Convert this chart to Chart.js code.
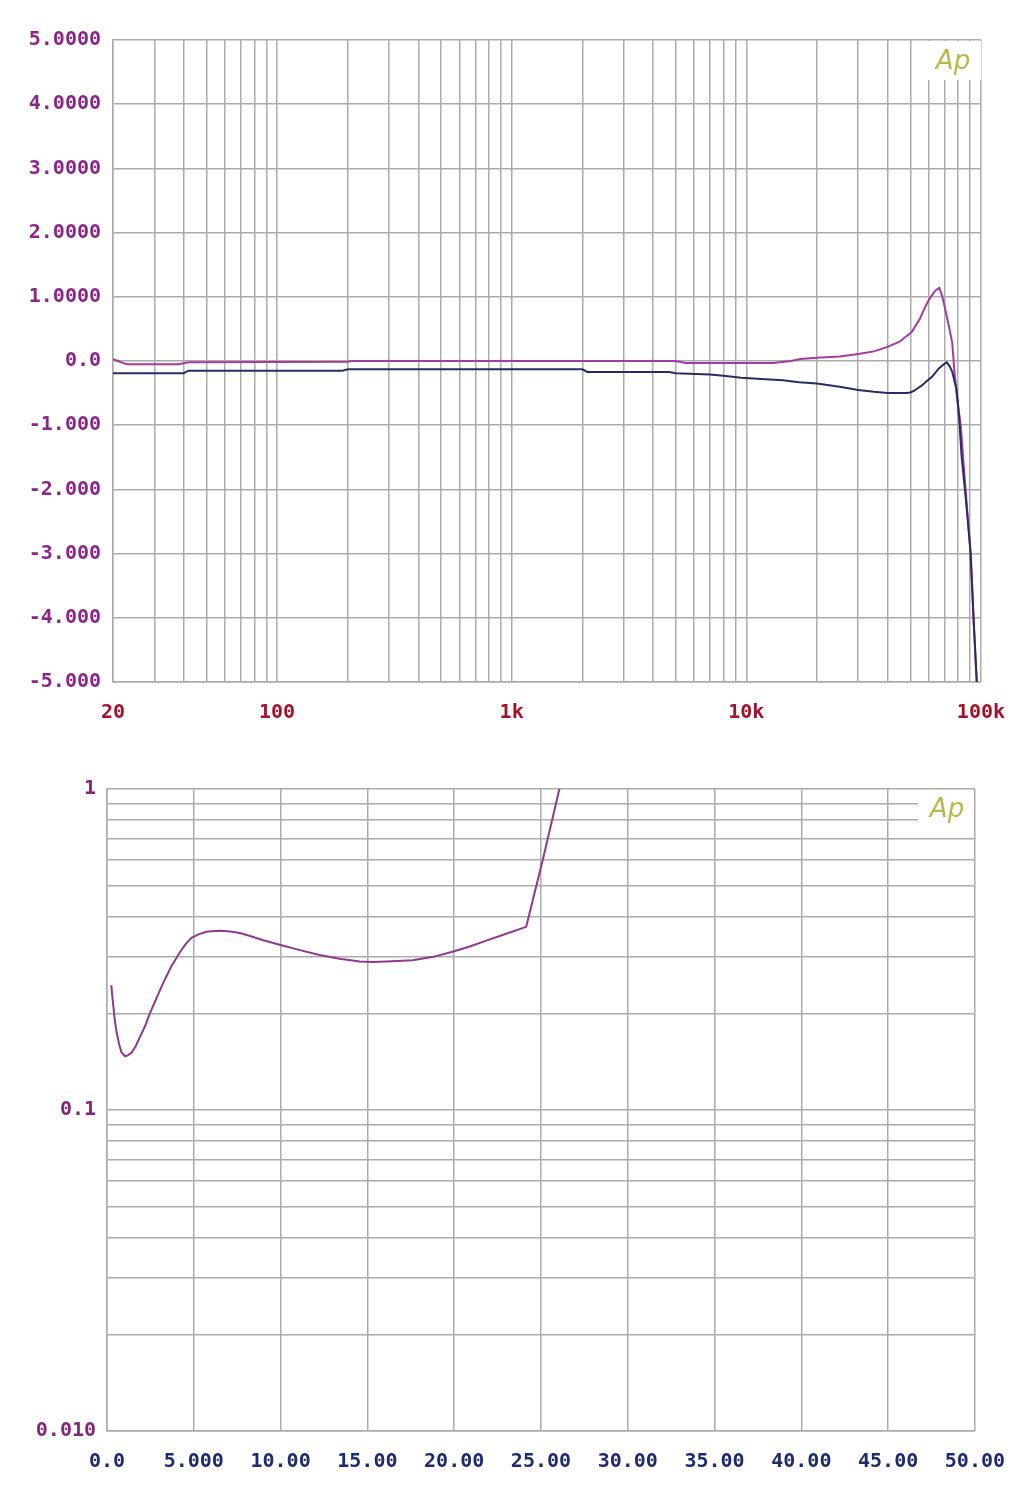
<!DOCTYPE html>
<html>
<head>
<meta charset="utf-8">
<script src="https://cdn.jsdelivr.net/npm/chart.js@4/dist/chart.umd.min.js"></script>
<style>
  html, body { margin: 0; padding: 0; background: #ffffff; }
  #wrapTop { position: absolute; left: 0; top: 0; width: 1024px; height: 740px; }
  #wrapBot { position: absolute; left: 0; top: 740px; width: 1024px; height: 760px; }
</style>
</head>
<body>
<div id="wrapTop"><canvas id="top" width="1024" height="740"></canvas></div>
<div id="wrapBot"><canvas id="bot" width="1024" height="760"></canvas></div>
<script>
// ---------- Top chart: frequency response ----------
const freqTickValues = [20, 100, 1000, 10000, 100000];
const freqTickLabels = ['20', '100', '1k', '10k', '100k'];
const levelTickValues = [5, 4, 3, 2, 1, 0, -1, -2, -3, -4, -5];
const levelTickLabels = ['5.0000', '4.0000', '3.0000', '2.0000', '1.0000', '0.0', '-1.000', '-2.000', '-3.000', '-4.000', '-5.000'];

const purpleFreq = [20, 21, 22, 23, 30, 38, 42, 45, 100, 200, 210, 1000, 5000, 5500, 10000, 13000, 15500, 17000, 20000, 25000, 30000, 35000, 40000, 45000, 50700, 55000, 58000, 60000, 62000, 64000, 66500, 68500, 70500, 73000, 75500, 77000, 79000, 82000, 86000, 90400, 93000, 96000, 97500];
const purpleLevel = [0.03, 0.0, -0.03, -0.05, -0.05, -0.05, -0.02, -0.02, -0.015, -0.01, 0.0, 0.0, 0.0, -0.03, -0.03, -0.03, 0.0, 0.03, 0.05, 0.07, 0.11, 0.15, 0.22, 0.3, 0.45, 0.66, 0.85, 0.95, 1.03, 1.1, 1.14, 1.0, 0.8, 0.55, 0.28, -0.14, -0.55, -1.0, -2.0, -3.0, -4.0, -5.0, -5.6];

const navyFreq = [20, 40, 42, 190, 200, 2000, 2100, 4700, 5000, 7000, 8000, 9500, 11600, 14300, 16800, 20000, 25000, 30000, 35000, 40000, 48000, 50000, 52000, 54000, 56000, 58500, 61700, 64000, 66000, 69000, 71500, 73500, 75500, 78800, 80800, 82800, 86000, 88000, 90400, 93000, 96000, 97500];
const navyLevel = [-0.19, -0.19, -0.15, -0.15, -0.13, -0.13, -0.17, -0.17, -0.19, -0.21, -0.23, -0.26, -0.28, -0.3, -0.33, -0.35, -0.4, -0.45, -0.48, -0.5, -0.5, -0.49, -0.46, -0.42, -0.38, -0.32, -0.25, -0.18, -0.12, -0.06, -0.02, -0.08, -0.17, -0.45, -0.9, -1.5, -2.1, -2.5, -3.0, -4.0, -5.0, -5.6];

// ---------- Bottom chart: THD+N vs power ----------
const powerTickValues = [0, 5, 10, 15, 20, 25, 30, 35, 40, 45, 50];
const powerTickLabels = ['0.0', '5.000', '10.00', '15.00', '20.00', '25.00', '30.00', '35.00', '40.00', '45.00', '50.00'];
const thdTickValues = [1, 0.1, 0.01];
const thdTickLabels = ['1', '0.1', '0.010'];

const powerW = [0.25, 0.3, 0.36, 0.45, 0.56, 0.7, 0.84, 1.04, 1.2, 1.42, 1.65, 1.9, 2.2, 2.47, 2.85, 3.24, 3.7, 4.2, 4.55, 4.87, 5.3, 5.73, 6.2, 6.6, 7.1, 7.65, 8.2, 9.0, 9.95, 11.0, 12.25, 13.4, 14.56, 15.3, 16.1, 17.6, 18.8, 19.9, 20.9, 21.85, 23.0, 24.15, 25.1, 26.1];
const thdPct = [0.245, 0.228, 0.212, 0.19, 0.174, 0.16, 0.151, 0.147, 0.148, 0.151, 0.158, 0.169, 0.183, 0.2, 0.223, 0.249, 0.28, 0.31, 0.33, 0.344, 0.353, 0.359, 0.361, 0.362, 0.36, 0.356, 0.349, 0.338, 0.327, 0.316, 0.304, 0.296, 0.29, 0.289, 0.29, 0.293, 0.3, 0.311, 0.323, 0.337, 0.354, 0.372, 0.6, 1.02];

// ---------- helpers ----------
const GRID = '#ababab';
const FONT = { family: '"DejaVu Sans Mono", "Liberation Mono", monospace', size: 20, weight: 'bold' };

function logGridValues(minExp, maxExp, lo, hi) {
  const out = [];
  for (let e = minExp; e <= maxExp; e++) {
    for (let m = 1; m <= 9; m++) {
      const v = +(m * Math.pow(10, e)).toPrecision(6);
      if (v >= lo - 1e-12 && v <= hi + 1e-12) out.push(v);
    }
  }
  return out;
}
function labelFor(values, labels, v) {
  for (let i = 0; i < values.length; i++) {
    if (Math.abs(values[i] - v) <= Math.abs(values[i]) * 1e-6 + 1e-12) return labels[i];
  }
  return '';
}
function apLogo(box, textX, textY) {
  return {
    id: 'apLogo',
    beforeDatasetsDraw(chart) {
      const ctx = chart.ctx;
      ctx.save();
      ctx.fillStyle = '#ffffff';
      ctx.fillRect(box[0], box[1], box[2], box[3]);
      ctx.fillStyle = '#b9b84a';
      ctx.font = 'italic 26px "DejaVu Sans", "Liberation Sans", sans-serif';
      ctx.textAlign = 'center';
      ctx.textBaseline = 'middle';
      ctx.fillText('Ap', textX, textY);
      ctx.restore();
    }
  };
}
function toXY(xs, ys) { return xs.map((x, i) => ({ x: x, y: ys[i] })); }

// ---------- Top chart ----------
new Chart(document.getElementById('top'), {
  type: 'line',
  data: {
    datasets: [
      { data: toXY(navyFreq, navyLevel), borderColor: '#2b2b63', borderWidth: 2, pointRadius: 0, tension: 0, fill: false },
      { data: toXY(purpleFreq, purpleLevel), borderColor: '#a23c9e', borderWidth: 2, pointRadius: 0, tension: 0, fill: false }
    ]
  },
  options: {
    responsive: false,
    animation: false,
    events: [],
    layout: { padding: { top: 40, right: 42, left: 0, bottom: 0 } },
    plugins: { legend: { display: false }, tooltip: { enabled: false } },
    scales: {
      x: {
        type: 'logarithmic', min: 20, max: 100000,
        afterBuildTicks: (axis) => { axis.ticks = logGridValues(1, 5, 20, 100000).map(v => ({ value: v })); },
        afterFit: (axis) => { axis.height = 58; },
        grid: { color: GRID, lineWidth: 1.5, drawTicks: false },
        border: { color: GRID, width: 1.5 },
        ticks: {
          autoSkip: false, maxRotation: 0, padding: 19, color: '#a3122a', font: FONT,
          callback: (v) => labelFor(freqTickValues, freqTickLabels, v)
        }
      },
      y: {
        type: 'linear', min: -5, max: 5,
        afterBuildTicks: (axis) => { axis.ticks = levelTickValues.map(v => ({ value: v })); },
        afterFit: (axis) => { axis.width = 113; },
        grid: { color: GRID, lineWidth: 1.5, drawTicks: false },
        border: { color: GRID, width: 1.5 },
        ticks: {
          autoSkip: false, padding: 12, color: '#8a268a', font: FONT,
          callback: (v) => labelFor(levelTickValues, levelTickLabels, v)
        }
      }
    }
  },
  plugins: [apLogo([921, 41, 60, 39], 953, 62)]
});

// ---------- Bottom chart ----------
new Chart(document.getElementById('bot'), {
  type: 'line',
  data: {
    datasets: [
      { data: toXY(powerW, thdPct), borderColor: '#8e3a8c', borderWidth: 2, pointRadius: 0, tension: 0, fill: false }
    ]
  },
  options: {
    responsive: false,
    animation: false,
    events: [],
    layout: { padding: { top: 49, right: 48, left: 0, bottom: 0 } },
    plugins: { legend: { display: false }, tooltip: { enabled: false } },
    scales: {
      x: {
        type: 'linear', min: 0, max: 50,
        afterBuildTicks: (axis) => { axis.ticks = powerTickValues.map(v => ({ value: v })); },
        afterFit: (axis) => { axis.height = 69; },
        grid: { color: GRID, lineWidth: 1.5, drawTicks: false },
        border: { color: GRID, width: 1.5 },
        ticks: {
          autoSkip: false, maxRotation: 0, padding: 19, color: '#202a70', font: FONT,
          callback: (v) => labelFor(powerTickValues, powerTickLabels, v)
        }
      },
      y: {
        type: 'logarithmic', min: 0.01, max: 1,
        afterBuildTicks: (axis) => { axis.ticks = logGridValues(-2, 0, 0.01, 1).map(v => ({ value: v })); },
        afterFit: (axis) => { axis.width = 107; },
        grid: { color: GRID, lineWidth: 1.5, drawTicks: false },
        border: { color: GRID, width: 1.5 },
        ticks: {
          autoSkip: false, padding: 11, color: '#86267a', font: FONT,
          callback: (v) => labelFor(thdTickValues, thdTickLabels, v)
        }
      }
    }
  },
  plugins: [apLogo([918, 51, 56, 39], 947, 70)]
});
</script>
</body>
</html>
